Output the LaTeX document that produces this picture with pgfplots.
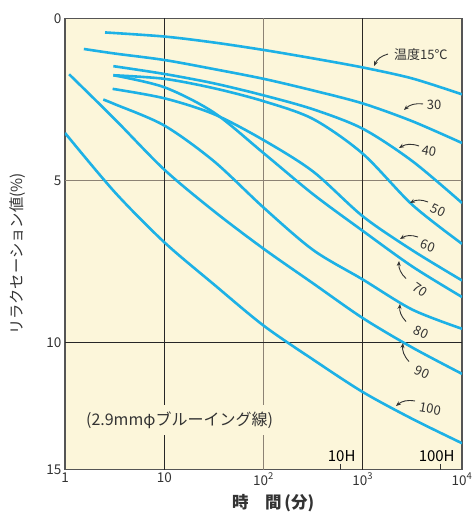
\documentclass[border=0pt]{standalone}
\usepackage{pgfplots}
\pgfplotsset{compat=1.18}
\usepackage{fontspec}
\setmainfont{Noto Sans CJK JP}
\usetikzlibrary{arrows.meta}
\definecolor{bg}{HTML}{FCF6DA}
\definecolor{cv}{HTML}{1DB1E6}
\definecolor{gridgray}{HTML}{8C8274}
\definecolor{framec}{HTML}{555555}
\definecolor{txt}{HTML}{333333}

\begin{document}
\begin{tikzpicture}[x=1pt,y=1pt]
\begin{axis}[
  at={(0,0)}, anchor=south west,
  width=397pt, height=451pt, scale only axis,
  xmode=log, xmin=1, xmax=10000,
  ymin=0, ymax=13.91, y dir=reverse,
  xtick={1,10,100,1000,10000},
  xticklabels={1,10,10\textsuperscript{2},10\textsuperscript{3},10\textsuperscript{4}},
  ytick={0,5,10,13.91}, yticklabels={0,5,10,15},
  xminorticks=false, yminorticks=false,
  tick style={draw=none},
  /pgf/number format/assume math mode=true,
  ticklabel style={font=\fontsize{13.5}{14}\selectfont, text=txt},
  axis background/.style={fill=bg},
  axis line style={framec, line width=1.2pt},
  every axis plot post/.append style={cv, solid, line width=2.6pt, smooth, mark=none},
  clip=true,
]
\draw[gridgray, line width=1.1pt] (axis cs:100,0) -- (axis cs:100,13.91);
\draw[gridgray, line width=1.1pt] (axis cs:1,5) -- (axis cs:10000,5);
\draw[black!85, line width=1pt] (axis cs:10,0) -- (axis cs:10,13.91);
\draw[black!70!gridgray, line width=1pt] (axis cs:1000,0) -- (axis cs:1000,13.91);
\draw[black!85, line width=1pt] (axis cs:1,10) -- (axis cs:10000,10);
\draw[black!80, line width=0.8pt] (axis cs:600,13.91) -- (axis cs:600,13.74);
\draw[black!80, line width=0.8pt] (axis cs:6000,13.91) -- (axis cs:6000,13.74);
% 15
\addplot table {
2.53 0.43
10 0.556
31.6 0.74
100 0.97
316 1.23
1000 1.51
3162 1.85
10000 2.34
};
% 30
\addplot table {
1.55 0.94
3.16 1.08
10 1.28
31.6 1.56
100 1.86
316 2.22
1000 2.62
3162 3.17
10000 3.84
};
% 40
\addplot table {
3.07 1.47
10 1.71
31.6 2.0
100 2.37
316 2.80
1000 3.40
3162 4.40
10000 5.69
};
% 50
\addplot table {
3.07 1.75
10 1.86
31.6 2.15
100 2.55
316 3.10
1000 4.17
3162 5.75
10000 6.95
};
% 60
\addplot table {
3.02 2.17
10 2.46
31.6 2.95
100 3.75
316 4.72
1000 6.10
3162 7.15
10000 8.08
};
% 70
\addplot table {
3.07 1.75
10 2.12
31.6 2.9
100 4.15
316 5.42
1000 6.55
3162 7.65
10000 8.59
};
% 80
\addplot table {
2.43 2.50
3.16 2.64
10 3.30
31.6 4.4
100 5.83
316 7.14
1000 8.05
3162 8.98
10000 9.57
};
% 90
\addplot table {
1.1 1.72
3.16 3.1
10 4.66
31.6 5.94
100 7.10
316 8.17
1000 9.24
3162 10.15
10000 10.96
};
% 100
\addplot table {
1 3.53
3.16 5.35
10 6.9
31.6 8.2
100 9.47
316 10.52
1000 11.52
3162 12.35
10000 13.10
};
\end{axis}
% axis labels
\node[rotate=90, text=txt, font=\fontsize{15.3}{16}\selectfont] at (-47,215.5) {リラクセーション値(\%)};
\node[anchor=west, text=txt, font=\fontsize{16.5}{17}\selectfont\bfseries, inner sep=0pt] at (167,-33.5) {時　間\,(分)};
% curve labels
\begin{scope}[text=txt, font=\fontsize{13}{14}\selectfont, inner sep=1pt]
\node[anchor=west, font=\fontsize{13}{14}\selectfont] at (328,414.5) {温度15℃};
\node at (369,364.5) {30};
\node[rotate=-10] at (364,318.5) {40};
\node[rotate=-25] at (373,259.5) {50};
\node[rotate=-20] at (363,223.5) {60};
\node[rotate=-35] at (355,180) {70};
\node[rotate=-25] at (356,137) {80};
\node[rotate=-25] at (357,97) {90};
\node[rotate=-10] at (365,60.5) {100};
\end{scope}
\begin{scope}[txt, line width=0.9pt, -{Stealth[length=5pt,width=4pt]}]
\draw (323,415.5) to[bend right=25] (309,403.5);
\draw (358,365.5) to[bend right=25] (339,359.5);
\draw (354,323.5) to[bend right=25] (334,321.5);
\draw (363,267.5) to[bend right=25] (345,266.5);
\draw (353,232.5) to[bend right=25] (335,230.5);
\draw (341,191) to[bend left=25] (334,208.5);
\draw (341,148) to[bend left=25] (335,165.5);
\draw (344,108) to[bend left=25] (338,126.5);
\draw (350,68.5) to[bend right=25] (331,63.5);
\end{scope}
\node[fill=bg, inner xsep=2pt, inner ysep=7pt, text=txt, font=\fontsize{16}{17}\selectfont] at (114.5,49.5) {(2.9mmφブルーイング線)};
\node[text=black, font=\fontsize{15}{16}\selectfont] at (276.7,13.2) {10H};
\node[text=black, font=\fontsize{15}{16}\selectfont] at (371.7,13.2) {100H};
\pgfresetboundingbox
\useasboundingbox (-65,-51.5) rectangle (410,469.5);
\end{tikzpicture}
\end{document}
